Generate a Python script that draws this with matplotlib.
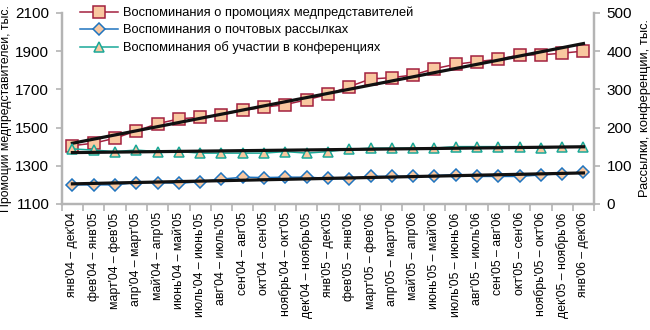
import numpy as np
import matplotlib
matplotlib.use("Agg")
import matplotlib.pyplot as plt

plt.rcParams["font.family"] = ["Liberation Sans", "DejaVu Sans"]

periods = [
    "янв'04 – дек'04", "фев'04 – янв'05", "март'04 – фев'05", "апр'04 – март'05",
    "май'04 – апр'05", "июнь'04 – май'05", "июль'04 – июнь'05", "авг'04 – июль'05",
    "сен'04 – авг'05", "окт'04 – сен'05", "ноябрь'04 – окт'05", "дек'04 – ноябрь'05",
    "янв'05 – дек'05", "фев'05 – янв'06", "март'05 – фев'06", "апр'05 – март'06",
    "май'05 – апр'06", "июнь'05 – май'06", "июль'05 – июнь'06", "авг'05 – июль'06",
    "сен'05 – авг'06", "окт'05 – сен'06", "ноябрь'05 – окт'06", "дек'05 – ноябрь'06",
    "янв'06 – дек'06",
]

# тыс., левая ось
promo = [1405, 1418, 1444, 1482, 1520, 1545, 1554, 1566, 1590, 1606, 1620, 1645,
         1673, 1714, 1754, 1761, 1775, 1808, 1831, 1845, 1857, 1880, 1880, 1889, 1900]
# тыс., правая ось
mail = [50, 50, 50, 56, 56, 54, 58, 65, 70, 69, 70, 70,
        67, 65, 72, 72, 72, 74, 77, 72, 72, 72, 76, 79, 83]
conf = [144, 141, 137, 141, 137, 137, 133, 133, 133, 133, 137, 133,
        137, 143, 146, 146, 146, 146, 150, 150, 150, 150, 146, 150, 150]

labels = [
    "Воспоминания о промоциях медпредставителей",
    "Воспоминания о почтовых рассылках",
    "Воспоминания об участии в конференциях",
]

face = "#f9c8a0"
c_promo = "#a3213f"
c_mail = "#1f74bf"
c_conf = "#1aa898"
spine_c = "#b4b4b4"

x = np.arange(len(periods))


def trend(values):
    k, b = np.polyfit(x, values, 1)
    return k * x + b


fig = plt.figure(figsize=(6.5, 3.3), dpi=100)
ax = fig.add_axes([0.095, 0.382, 0.819, 0.579])
ax2 = ax.twinx()

h1, = ax.plot(x, promo, color=c_promo, lw=1.1, marker="s", ms=8,
              mfc=face, mec=c_promo, mew=1.1, zorder=3)
ax.plot(x, trend(promo), color="#111111", lw=2.3, zorder=4)

h2, = ax2.plot(x, mail, color=c_mail, lw=1.1, marker="D", ms=6,
               mfc=face, mec=c_mail, mew=1.1, zorder=3)
h3, = ax2.plot(x, conf, color=c_conf, lw=1.1, marker="^", ms=7.5,
               mfc=face, mec=c_conf, mew=1.1, zorder=3)
ax2.plot(x, trend(mail), color="#111111", lw=2.3, zorder=4)
ax2.plot(x, trend(conf), color="#111111", lw=2.3, zorder=4)

ax.set_xlim(-0.5, len(periods) - 0.5)
ax.set_ylim(1100, 2100)
ax.set_yticks(range(1100, 2101, 200))
ax2.set_ylim(0, 500)
ax2.set_yticks(range(0, 501, 100))

ax.set_xticks(x)
ax.set_xticklabels(periods, rotation=90, fontsize=8.8)
ax.set_xticks(np.arange(-0.5, len(periods), 1), minor=True)
ax.tick_params(axis="x", which="major", length=0, pad=6)
ax.tick_params(axis="x", which="minor", length=5, width=1.2, color=spine_c)
ax.tick_params(axis="y", labelsize=11, length=4, width=1.2, color=spine_c, pad=5)
ax2.tick_params(axis="y", labelsize=11, length=4, width=1.2, color=spine_c, pad=5)

for a in (ax, ax2):
    a.spines["top"].set_visible(False)
    for s in ("left", "right", "bottom"):
        a.spines[s].set_color(spine_c)
        a.spines[s].set_linewidth(1.6)

ax.set_ylabel("Промоции медпредставителей, тыс.", fontsize=8.8, labelpad=2)
ax2.set_ylabel("Рассылки, конференции, тыс.", fontsize=9.3, rotation=90, labelpad=5)

ax2.legend([h1, h2, h3], labels, loc="upper left", bbox_to_anchor=(0.025, 1.06),
           frameon=False, fontsize=9.3, handlelength=2.9, handletextpad=0.45,
           labelspacing=0.4, borderaxespad=0)

fig.savefig("out.png", dpi=100)
